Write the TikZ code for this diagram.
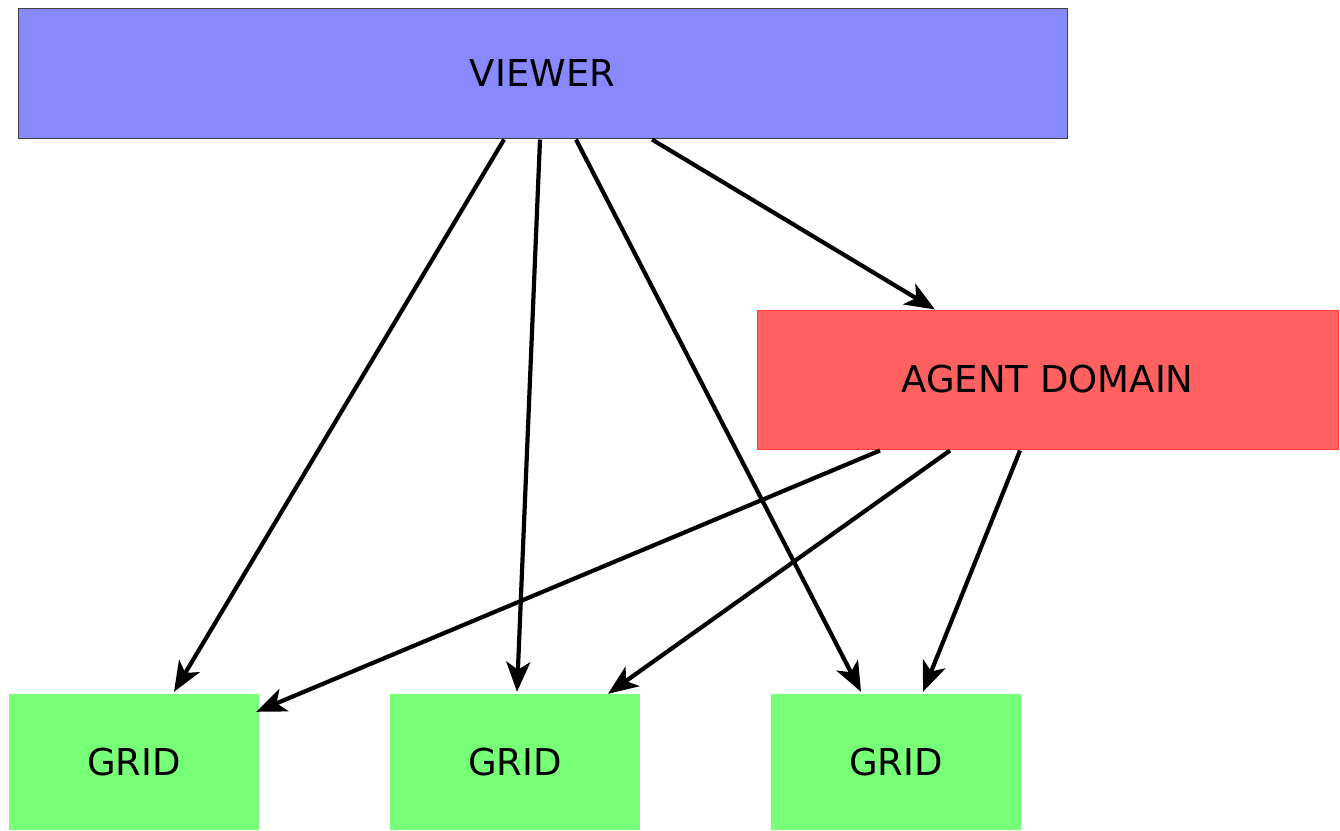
\documentclass[tikz,border=0pt]{standalone}
\usepackage{fontspec}
\setmainfont{DejaVu Sans}
\usetikzlibrary{arrows.meta}
\definecolor{viewerblue}{HTML}{8888FF}
\definecolor{agentred}{HTML}{FF6060}
\definecolor{agentedge}{HTML}{FF3838}
\definecolor{gridgreen}{HTML}{77FF77}
\begin{document}
\begin{tikzpicture}[x=1pt,y=-1pt,
  box/.style={rectangle, inner sep=0pt, font=\fontsize{37}{44}\selectfont},
  viewerbox/.style={box, fill=viewerblue, draw=black!75, line width=1pt,
    minimum width=1049pt, minimum height=130pt},
  agentbox/.style={box, fill=agentred, draw=agentedge, line width=1pt,
    minimum width=581pt, minimum height=139pt},
  gridbox/.style={box, fill=gridgreen, minimum width=250pt, minimum height=136pt},
  link/.style={line width=4.2pt, -{Stealth[length=30pt, width=24pt, inset=8pt]}}]
  \useasboundingbox (0,0) rectangle (1340,830);

  \node[viewerbox] (viewer) at (542.5,73) {VIEWER};
  \node[agentbox] (agent) at (1047.5,379.5) {AGENT DOMAIN};
  \node[gridbox] (grid1) at (134,762) {GRID};
  \node[gridbox] (grid2) at (515,762) {GRID};
  \node[gridbox] (grid3) at (896,762) {GRID};

  % viewer to the grids and the agent domain
  \draw[link] ([xshift=-38.5pt, yshift=-1pt]viewer.south) -- ([xshift=40pt, yshift=2pt]grid1.north);
  \draw[link] ([xshift=-2.5pt, yshift=-1pt]viewer.south) -- ([xshift=2pt, yshift=2pt]grid2.north);
  \draw[link] ([xshift=33.5pt, yshift=-1pt]viewer.south) -- ([xshift=-35pt, yshift=2pt]grid3.north);
  \draw[link] ([xshift=109.5pt, yshift=-1pt]viewer.south) -- ([xshift=-112.5pt, yshift=0pt]agent.north);

  % agent domain to the grids
  \draw[link] ([xshift=-167.5pt, yshift=-1pt]agent.south) -- ([xshift=-3pt, yshift=-18pt]grid1.north east);
  \draw[link] ([xshift=-97.5pt, yshift=-1pt]agent.south) -- ([xshift=93pt, yshift=0pt]grid2.north);
  \draw[link] ([xshift=-27.5pt, yshift=-1pt]agent.south) -- ([xshift=27pt, yshift=2pt]grid3.north);
\end{tikzpicture}
\end{document}
